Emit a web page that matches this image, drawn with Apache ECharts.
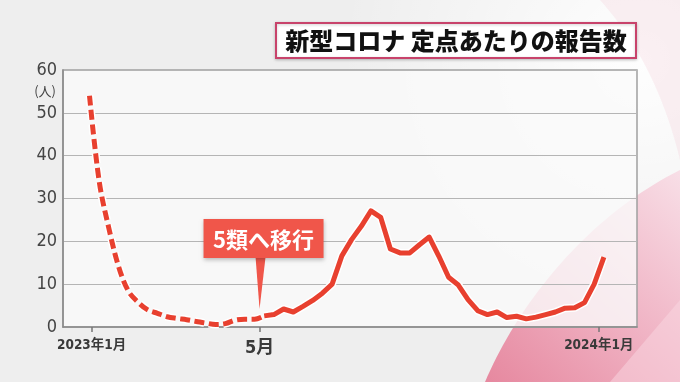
<!DOCTYPE html>
<html>
<head>
<meta charset="utf-8">
<script src="https://cdn.jsdelivr.net/npm/echarts@6/dist/echarts.min.js"></script>
<style>
html,body{margin:0;padding:0;background:#eeeeee;}
#chart{width:680px;height:382px;}
</style>
</head>
<body>
<div id="chart"></div>
<script>
// ---- data (weekly, index = week number from first point) ----
const titleText = '新型コロナ 定点あたりの報告数';
const calloutText = '5類へ移行';
const yUnit = '(人)';
// before the move to Class 5 (dashed, estimated values)
const dashedValues = [54, 34, 23, 14.1, 8.4, 5.8, 4.0, 3.2, 2.4, 2.0, 1.7, 1.3, 0.9, 0.6, 0.8, 1.6, 1.8, 1.8, 2.6];
// after the move (solid)
const solidValues = [2.6, 2.9, 4.2, 3.5, 4.8, 6.2, 7.9, 10.0, 16.6, 20.4, 23.5, 27.1, 25.6, 18.2, 17.3, 17.3, 19.2, 21.0, 16.5, 11.6, 9.8, 6.4, 3.8, 2.9, 3.5, 2.2, 2.5, 1.9, 2.3, 2.9, 3.5, 4.4, 4.5, 5.7, 10.0, 16.3];
const xTickLabels = ['2023年1月', '5月', '2024年1月'];
const xTickPos = [0.22, 17.52, 52.47];      // in week units
const xRange = [-2.73, 56.41];
const yTicks = [0, 10, 20, 30, 40, 50, 60];
const calloutAnchor = [17.52, 4.2];

const solidStart = dashedValues.length - 1;
const dashedData = dashedValues.map((v, i) => [i, v]);
const solidData = solidValues.map((v, i) => [solidStart + i, v]);

const RED = '#e8402f';
const chart = echarts.init(document.getElementById('chart'), null, {renderer: 'canvas'});
const numFont = "'Liberation Sans Narrow','DejaVu Sans Condensed','Noto Sans CJK JP',sans-serif";

function lineSeries(data, color, width, dashed, z, smooth) {
  return {
    type: 'line', data: data, symbol: 'none', z: z, smooth: smooth,
    silent: true, animation: false,
    lineStyle: {color: color, width: width, type: dashed ? [10, 4.5] : 'solid', cap: 'butt', join: 'round'}
  };
}

const option = {
  animation: false,
  backgroundColor: 'transparent',
  grid: {left: 63, right: 43, top: 70, bottom: 55, show: true,
         backgroundColor: 'rgba(250,250,250,0.8)', borderColor: '#a0a0a0', borderWidth: 1.5},
  xAxis: {
    type: 'value', min: xRange[0], max: xRange[1],
    splitLine: {show: false},
    axisLine: {show: true, onZero: false, lineStyle: {color: '#8a8a8a', width: 1.5}},
    axisTick: {show: true, customValues: xTickPos, length: 5, lineStyle: {color: '#777', width: 1.5}},
    axisLabel: {
      customValues: xTickPos, margin: 12,
      formatter: function (v) {
        const i = xTickPos.findIndex(p => Math.abs(p - v) < 1e-6);
        const t = i >= 0 ? xTickLabels[i] : '';
        return t.length <= 2 ? '{b|' + t + '}' : '{s|' + t + '}';
      },
      rich: {
        s: {fontSize: 13.5, color: '#3a3a3a', fontFamily: numFont, fontWeight: 'bold'},
        b: {fontSize: 18, color: '#3a3a3a', fontFamily: numFont, fontWeight: 'bold'}
      }
    }
  },
  yAxis: {
    type: 'value', min: 0, max: 60, interval: 10,
    splitLine: {show: true, lineStyle: {color: '#b5b5b5', width: 1.2}},
    axisLine: {show: true, onZero: false, lineStyle: {color: '#8a8a8a', width: 1.5}},
    axisTick: {show: false},
    axisLabel: {fontSize: 18, color: '#444', margin: 6, fontFamily: numFont,
      formatter: v => yTicks.includes(v) ? String(v) : ''}
  },
  series: [
    lineSeries(dashedData, '#ffffff', 8, true, 3, 0.35),
    lineSeries(dashedData, RED, 5, true, 4, 0.35),
    lineSeries(solidData, '#ffffff', 8, false, 5, false),
    lineSeries(solidData, RED, 5, false, 6, false)
  ]
};
chart.setOption(option);

// decorative background shapes (cubic bezier sampled into polygons)
function bez(p0, p1, p2, p3, n) {
  const pts = [];
  for (let k = 0; k <= n; k++) {
    const t = k / n, u = 1 - t;
    pts.push([u*u*u*p0[0] + 3*u*u*t*p1[0] + 3*u*t*t*p2[0] + t*t*t*p3[0],
              u*u*u*p0[1] + 3*u*u*t*p1[1] + 3*u*t*t*p2[1] + t*t*t*p3[1]]);
  }
  return pts;
}
const pinkShape = bez([485, 382], [520, 300], [590, 215], [680, 170], 40).concat([[680, 382]]);
const topShape = bez([600, 0], [645, 50], [668, 110], [680, 160], 30).concat([[680, 0]]);

// annotation graphics
const tip = chart.convertToPixel({gridIndex: 0}, calloutAnchor);
const topLeft = chart.convertToPixel({gridIndex: 0}, [xRange[0], 60]);
const boxW = 120, boxH = 39;
const boxX = tip[0] - 56, boxY = tip[1] - 90;
const pinkGrad = {type: 'linear', x: 0, y: 1, x2: 1, y2: 0, colorStops: [
  {offset: 0, color: '#e6889f'}, {offset: 0.5, color: '#f0b3c4'}, {offset: 1, color: '#f8dfe7'}]};
const glow = {type: 'radial', x: 0.5, y: 0.5, r: 0.5, colorStops: [
  {offset: 0, color: 'rgba(255,255,255,0.95)'}, {offset: 1, color: 'rgba(255,255,255,0)'}]};
chart.setOption({
  graphic: [
    {type: 'rect', z: -30, silent: true, shape: {x: 0, y: 0, width: 680, height: 382}, style: {fill: '#eeeeee'}},
    {type: 'circle', z: -29, silent: true, shape: {cx: 640, cy: 60, r: 300}, style: {fill: glow}},
    {type: 'polygon', z: -28, silent: true, shape: {points: pinkShape}, style: {fill: pinkGrad}},
    {type: 'polygon', z: -27, silent: true, shape: {points: [[610, 382], [680, 300], [680, 382]]}, style: {fill: 'rgba(250,215,225,0.5)'}},
    {type: 'polygon', z: -27, silent: true, shape: {points: topShape}, style: {fill: 'rgba(240,190,205,0.22)'}},
    // unit label
    {type: 'text', z: 20, silent: true, x: topLeft[0] - 7, y: topLeft[1] + 21,
      style: {text: yUnit, fill: '#444', font: "13px 'Noto Sans CJK JP',sans-serif", align: 'right', verticalAlign: 'middle'}},
    // title box
    {type: 'rect', z: 50, silent: true, shape: {x: 276, y: 23, width: 360, height: 35},
      style: {fill: '#ffffff', stroke: '#c8436b', lineWidth: 2, shadowColor: 'rgba(0,0,0,0.2)', shadowBlur: 3, shadowOffsetY: 1}},
    {type: 'text', z: 51, silent: true, x: 456, y: 41,
      style: {text: titleText, fill: '#111', font: "900 24px 'Noto Sans CJK JP',sans-serif", align: 'center', verticalAlign: 'middle'}},
    // callout
    {type: 'polygon', z: 60, silent: true,
      shape: {points: [[tip[0] - 4, boxY + boxH - 1], [tip[0] + 6, boxY + boxH - 1], [tip[0], tip[1]]]},
      style: {fill: '#f0564a'}},
    {type: 'rect', z: 60, silent: true, shape: {x: boxX, y: boxY, width: boxW, height: boxH},
      style: {fill: '#f0564a', shadowColor: 'rgba(0,0,0,0.25)', shadowBlur: 4, shadowOffsetY: 2}},
    {type: 'text', z: 61, silent: true, x: boxX + boxW / 2, y: boxY + boxH / 2 + 1,
      style: {text: calloutText, fill: '#ffffff', font: "bold 22px 'Noto Sans CJK JP',sans-serif", align: 'center', verticalAlign: 'middle'}}
  ]
});
</script>
</body>
</html>
